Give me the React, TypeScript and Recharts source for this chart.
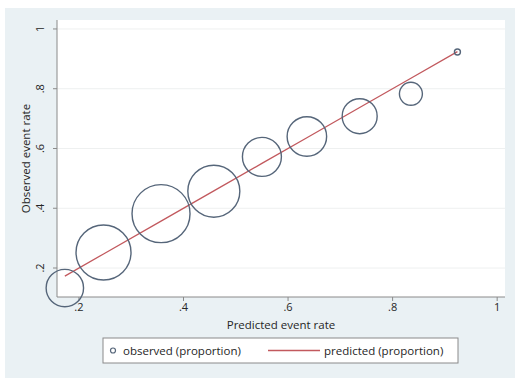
import { ScatterChart, Scatter, XAxis, YAxis, CartesianGrid } from "recharts"

const predictedRate = [0.173, 0.247, 0.357, 0.458, 0.55, 0.636, 0.737, 0.835, 0.924]
const observedRate = [0.133, 0.252, 0.382, 0.457, 0.572, 0.64, 0.708, 0.783, 0.923]
const predictedProportion = [0.173, 0.247, 0.357, 0.458, 0.55, 0.636, 0.737, 0.835, 0.924]
const groupWeight = [350, 756, 841, 676, 380, 390, 306, 132, 9]
const xTicks = [0.2, 0.4, 0.6, 0.8, 1]
const yTicks = [0.2, 0.4, 0.6, 0.8, 1]

const observedData = predictedRate.map((x, i) => ({ x, y: observedRate[i], w: groupWeight[i] }))
const predictedData = predictedRate.map((x, i) => ({ x, y: predictedProportion[i] }))

const FONT = "'Open Sans', 'Liberation Sans', sans-serif"
const CIRCLE = "#56667a"
const RED = "#c2595e"
const TEXT = "#262626"

const fmt = (v: number) => (v === 1 ? "1" : String(v).replace(/^0/, ""))

function Bubble(props: any) {
  const { cx, cy, payload } = props
  if (cx == null || cy == null) return null
  const r = Math.max(2.5, Math.sqrt(payload.w))
  return <circle cx={cx} cy={cy} r={r} fill="none" stroke={CIRCLE} strokeWidth={1.4} />
}

function NoDot() {
  return <g />
}

function YTick(props: any) {
  const { x, y, payload } = props
  const bx = x - 7
  return (
    <text x={bx} y={y} transform={`rotate(-90 ${bx} ${y})`} textAnchor="middle" fontSize={11} fill={TEXT} fontFamily={FONT}>
      {fmt(payload.value)}
    </text>
  )
}

export default function App() {
  return (
    <div style={{ position: "absolute", left: 0, top: 0, width: 515, height: 378, background: "#fff" }}>
      <div style={{ position: "absolute", left: 5, top: 8, width: 510, height: 370, background: "#eaf1f4" }} />
      <div style={{ position: "absolute", left: 0, top: 0 }}>
        <ScatterChart width={515} height={378} margin={{ top: 20, right: 10, bottom: 51, left: 0 }}>
          <CartesianGrid vertical={false} fill="#ffffff" stroke="#eef0f0" horizontalValues={yTicks} />
          <XAxis
            type="number"
            dataKey="x"
            height={30}
            domain={[0.158, 1.015]}
            ticks={xTicks}
            tickFormatter={fmt}
            stroke="#8a8a8a"
            tickSize={4}
            tick={{ fontSize: 11, fill: TEXT, fontFamily: FONT }}
            label={{ value: "Predicted event rate", position: "insideBottom", offset: -2, fontSize: 11.5, fill: TEXT, fontFamily: FONT }}
          />
          <YAxis
            type="number"
            dataKey="y"
            width={57}
            domain={[0.103, 1.03]}
            ticks={yTicks}
            stroke="#8a8a8a"
            tickSize={4}
            tick={<YTick />}
            label={{ value: "Observed event rate", angle: -90, position: "insideLeft", offset: 26, fontSize: 11.5, fill: TEXT, fontFamily: FONT, style: { textAnchor: "middle" } }}
          />
          <Scatter
            name="predicted (proportion)"
            data={predictedData}
            line={{ stroke: RED, strokeWidth: 1.3 }}
            shape={<NoDot />}
            isAnimationActive={false}
          />
          <Scatter name="observed (proportion)" data={observedData} shape={<Bubble />} isAnimationActive={false} />
          <g>
            <rect x={103} y={338} width={355} height={25} fill="#fff" stroke="#8a8a8a" strokeWidth={1} />
            <circle cx={113} cy={350.5} r={2.5} fill="none" stroke={CIRCLE} strokeWidth={1.2} />
            <text x={123} y={354.5} fontSize={11.5} fill={TEXT} fontFamily={FONT}>observed (proportion)</text>
            <line x1={268} y1={350.5} x2={320} y2={350.5} stroke={RED} strokeWidth={1.3} />
            <text x={324} y={354.5} fontSize={11.5} fill={TEXT} fontFamily={FONT}>predicted (proportion)</text>
          </g>
        </ScatterChart>
      </div>
    </div>
  )
}
